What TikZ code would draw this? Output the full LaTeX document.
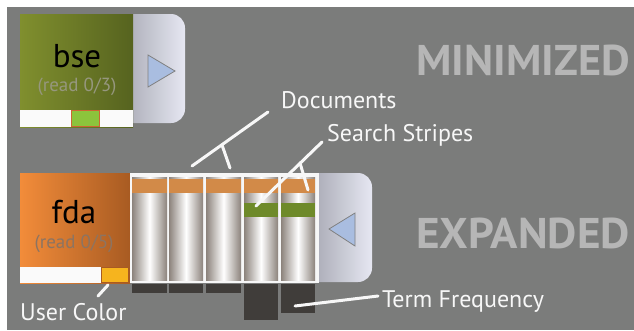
\documentclass[tikz,border=0pt]{standalone}
\usepackage{fontspec}
\usepackage{graphicx}
\setmainfont{PT Sans}
\usetikzlibrary{positioning}

\definecolor{bggray}{HTML}{7B7C7B}
\definecolor{olivel}{HTML}{808F2E}
\definecolor{oliver}{HTML}{56631F}
\definecolor{orangel}{HTML}{F28C3A}
\definecolor{oranger}{HTML}{A85B22}
\definecolor{tabl}{HTML}{9C9EA8}
\definecolor{tabr}{HTML}{E6E7F2}
\definecolor{triblue}{HTML}{A9BDE0}
\definecolor{colside}{HTML}{8C837C}
\definecolor{bandorange}{HTML}{D28A48}
\definecolor{stripegreen}{HTML}{6E8A2A}
\definecolor{freqdark}{HTML}{403D3A}
\definecolor{titlegray}{HTML}{B6B6B6}
\definecolor{readgreen}{HTML}{96977E}
\definecolor{readorange}{HTML}{8C7462}
\definecolor{usercol}{HTML}{F6B41E}
\definecolor{readmark}{HTML}{8CC43C}

\tikzset{
  tab/.style={left color=tabl, right color=tabr, draw=none, rounded corners=14pt},
  tri/.style={fill=triblue, draw=gray, line width=0.8pt},
  doccol/.style={left color=colside, right color=colside, middle color=white},
  freqbar/.style={fill=freqdark},
  callout/.style={draw=white!94!gray, line width=3pt, line cap=round},
  lbl/.style={text=white!94!gray, inner sep=0pt, anchor=base west, font=\fontsize{24}{24}\selectfont},
  title/.style={text=titlegray, inner sep=0pt, anchor=north east, font=\fontsize{43}{43}\selectfont\bfseries},
  readtext/.style={font=\fontsize{19}{19}\selectfont},
  boxname/.style={font=\fontsize{33}{33}\selectfont},
}

\begin{document}
\begin{tikzpicture}[x=1pt, y=-1pt]

	\useasboundingbox (0,0) rectangle (634,330);
	\fill[white] (0,0) rectangle (634,330);
	\fill[bggray] (7,7) rectangle (634,330);

	% minimized group
	\draw[tab] (110,14) rectangle (185,123);
	\draw[tri] (148,55) -- (175,71) -- (148,87) -- cycle;
	\shade[left color=olivel, right color=oliver] (20,14) rectangle (133,127);
	\fill[white!96!gray] (20,110) rectangle (133,127);
	\draw[fill=readmark, draw=brown!80!red, line width=0.8pt] (71,110.5) rectangle (99,126.5);
	\node[boxname] (bse) at (77,56) {bse};
	\node[readtext, text=readgreen] (bseread) at (77,87) {(read 0/3)};

	\node[title] (minimized) at (630,45) {\scalebox{1.03}[1]{MINIMIZED}};

	% expanded group
	\draw[tab] (300,173) rectangle (372,282);
	\draw[tri] (329,229) -- (355,213) -- (355,246) -- cycle;
	\shade[left color=orangel, right color=oranger] (20,173) rectangle (130,283);
	\fill[white!96!gray] (20,267) rectangle (101,283);
	\draw[fill=usercol, draw=oranger, line width=0.8pt] (101,267.5) rectangle (128,282.5);
	\node[boxname] (fda) at (74,212) {fda};
	\node[readtext, text=readorange] (fdaread) at (74,244) {(read 0/5)};

	% documents panel
	\fill[white!94!gray] (130,173) rectangle (319,283);
	\foreach \xa/\xb/\fb in {132/167/293, 169/203/293, 206/241/293, 244/278/320, 281/315/313} {
		\shade[doccol] (\xa,177) rectangle (\xb,280);
		\fill[bandorange] (\xa,179) rectangle (\xb,193);
		\fill[freqbar] (\xa,284) rectangle (\xb,\fb);
	}
	\fill[stripegreen] (244,203) rectangle (278,217);
	\fill[stripegreen] (281,203) rectangle (315,217);

	\node[title] (expanded) at (630,218) {\scalebox{1.05}[1]{EXPANDED}};

	% labels
	\node[lbl] (doclabel) at (281,108) {Documents};
	\node[lbl] (stripelabel) at (327,141) {Search Stripes};
	\node[lbl] (freqlabel) at (382,307) {Term Frequency};
	\node[lbl] (userlabel) at (20,320) {User Color};

	\coordinate (docstart) at (268,112);
	\coordinate (docend) at (192,166);
	\coordinate (docfork) at (222,145);
	\coordinate (docleg) at (230,168);
	\coordinate (stripestart) at (322,142);
	\coordinate (stripeend) at (256,206);
	\coordinate (stripefork) at (300,163);
	\coordinate (stripeleg) at (308,190);
	\coordinate (freqstart) at (378,296);
	\coordinate (freqend) at (295,306);
	\coordinate (userstart) at (108,285);
	\coordinate (userend) at (98,296);

	\draw[callout] (docstart) -- (docend);
	\draw[callout] (docfork) -- (docleg);
	\draw[callout] (stripestart) -- (stripeend);
	\draw[callout] (stripefork) -- (stripeleg);
	\draw[callout] (freqstart) -- (freqend);
	\draw[callout] (userstart) -- (userend);

\end{tikzpicture}
\end{document}
